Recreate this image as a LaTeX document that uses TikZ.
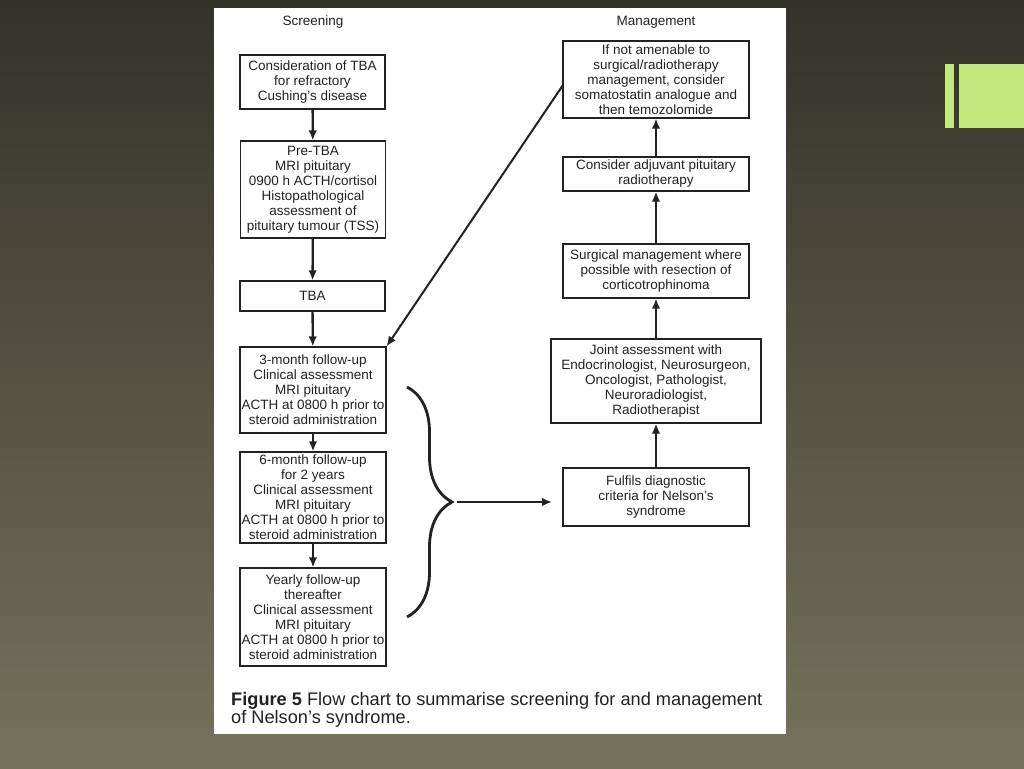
\documentclass[tikz,border=0pt]{standalone}
\usepackage{fontspec}
\setmainfont{Liberation Sans}
\usetikzlibrary{arrows.meta,decorations.pathreplacing,calc}
\definecolor{bgtop}{HTML}{33322A}
\definecolor{bgbot}{HTML}{75735A}
\definecolor{accent}{HTML}{C3E87B}
\definecolor{ink}{HTML}{222222}
\begin{document}
\begin{tikzpicture}[x=1pt,y=-1pt,
  box/.style={draw=ink, line width=1.1pt, align=center, text=ink, inner sep=0pt,
    font=\fontsize{13.5}{15}\selectfont},
  head/.style={text=ink, font=\fontsize{13.5}{15}\selectfont, anchor=base},
  flow/.style={-{Latex[length=10pt,width=8.5pt]}, line width=2.3pt, draw=ink},
  bracestyle/.style={draw=ink, line width=2.8pt, decorate, decoration={brace, amplitude=45pt}}]
\useasboundingbox (0,0) rectangle (1024,768);
\shade[top color=bgtop, bottom color=bgbot] (0,0) rectangle (1024,768);
% accent
\fill[accent] (944.5,64) rectangle (954,128);
\fill[accent] (959,64) rectangle (1024,128);
% white panel
\fill[white] (214,8) rectangle (786,734);
% headers
\node[head] (hs) at (313,26) {Screening};
\node[head] (hm) at (656,26) {Management};
% left column
\node[box, minimum width=145pt, minimum height=54pt] (b1) at (312.5,82)
  {Consideration of TBA\\for refractory\\Cushing's disease};
\node[box, minimum width=145pt, minimum height=97pt] (b2) at (313,189.5)
  {Pre-TBA\\MRI pituitary\\0900 h ACTH/cortisol\\Histopathological\\assessment of\\pituitary tumour (TSS)};
\node[box, minimum width=145pt, minimum height=30pt] (b3) at (312.5,296) {TBA};
\node[box, minimum width=146pt, minimum height=86pt] (b4) at (313,390)
  {3-month follow-up\\Clinical assessment\\MRI pituitary\\ACTH at 0800 h prior to\\steroid administration};
\node[box, minimum width=146pt, minimum height=91pt] (b5) at (313,497.5)
  {6-month follow-up\\for 2 years\\Clinical assessment\\MRI pituitary\\ACTH at 0800 h prior to\\steroid administration};
\node[box, minimum width=146pt, minimum height=98pt] (b6) at (313,617)
  {Yearly follow-up\\thereafter\\Clinical assessment\\MRI pituitary\\ACTH at 0800 h prior to\\steroid administration};
% right column
\node[box, minimum width=186pt, minimum height=77pt] (r1) at (656,79.5)
  {If not amenable to\\surgical/radiotherapy\\management, consider\\somatostatin analogue and\\then temozolomide};
\node[box, minimum width=186pt, minimum height=34pt] (r2) at (656,174)
  {Consider adjuvant pituitary\\radiotherapy};
\node[box, minimum width=186pt, minimum height=54pt] (r3) at (656,271)
  {Surgical management where\\possible with resection of\\corticotrophinoma};
\node[box, minimum width=210pt, minimum height=84pt] (r4) at (656,381)
  {Joint assessment with\\Endocrinologist, Neurosurgeon,\\Oncologist, Pathologist,\\Neuroradiologist,\\Radiotherapist};
\node[box, minimum width=186pt, minimum height=58pt] (r5) at (656,497)
  {Fulfils diagnostic\\criteria for Nelson's\\syndrome};
% arrows
\draw[flow] (b1) -- (b2);
\draw[flow] (b2) -- (b3);
\draw[flow] (b3) -- (b4);
\draw[flow] (b4) -- (b5);
\draw[flow] (b5) -- (b6);
\draw[flow] (r5) -- (r4);
\draw[flow] (r4) -- (r3);
\draw[flow] (r3) -- (r2);
\draw[flow] (r2) -- (r1);
\coordinate (dstart) at (563,85);
\draw[flow, line width=2pt] (dstart) -- (b4.north east);
% brace
\coordinate (bt) at (407,387);
\coordinate (bb) at (407,617);
\draw[bracestyle] (bt) -- (bb);
\coordinate (btip) at (457,502);
\draw[flow] (btip) -- (552,502) coordinate (bend);
% caption
\node[anchor=base west, text=ink, align=left, inner sep=0pt,
  font=\fontsize{18.2}{17.2}\selectfont] (cap) at (231,723)
  {\textbf{Figure 5} Flow chart to summarise screening for and management\\of Nelson's syndrome.};
\end{tikzpicture}
\end{document}
